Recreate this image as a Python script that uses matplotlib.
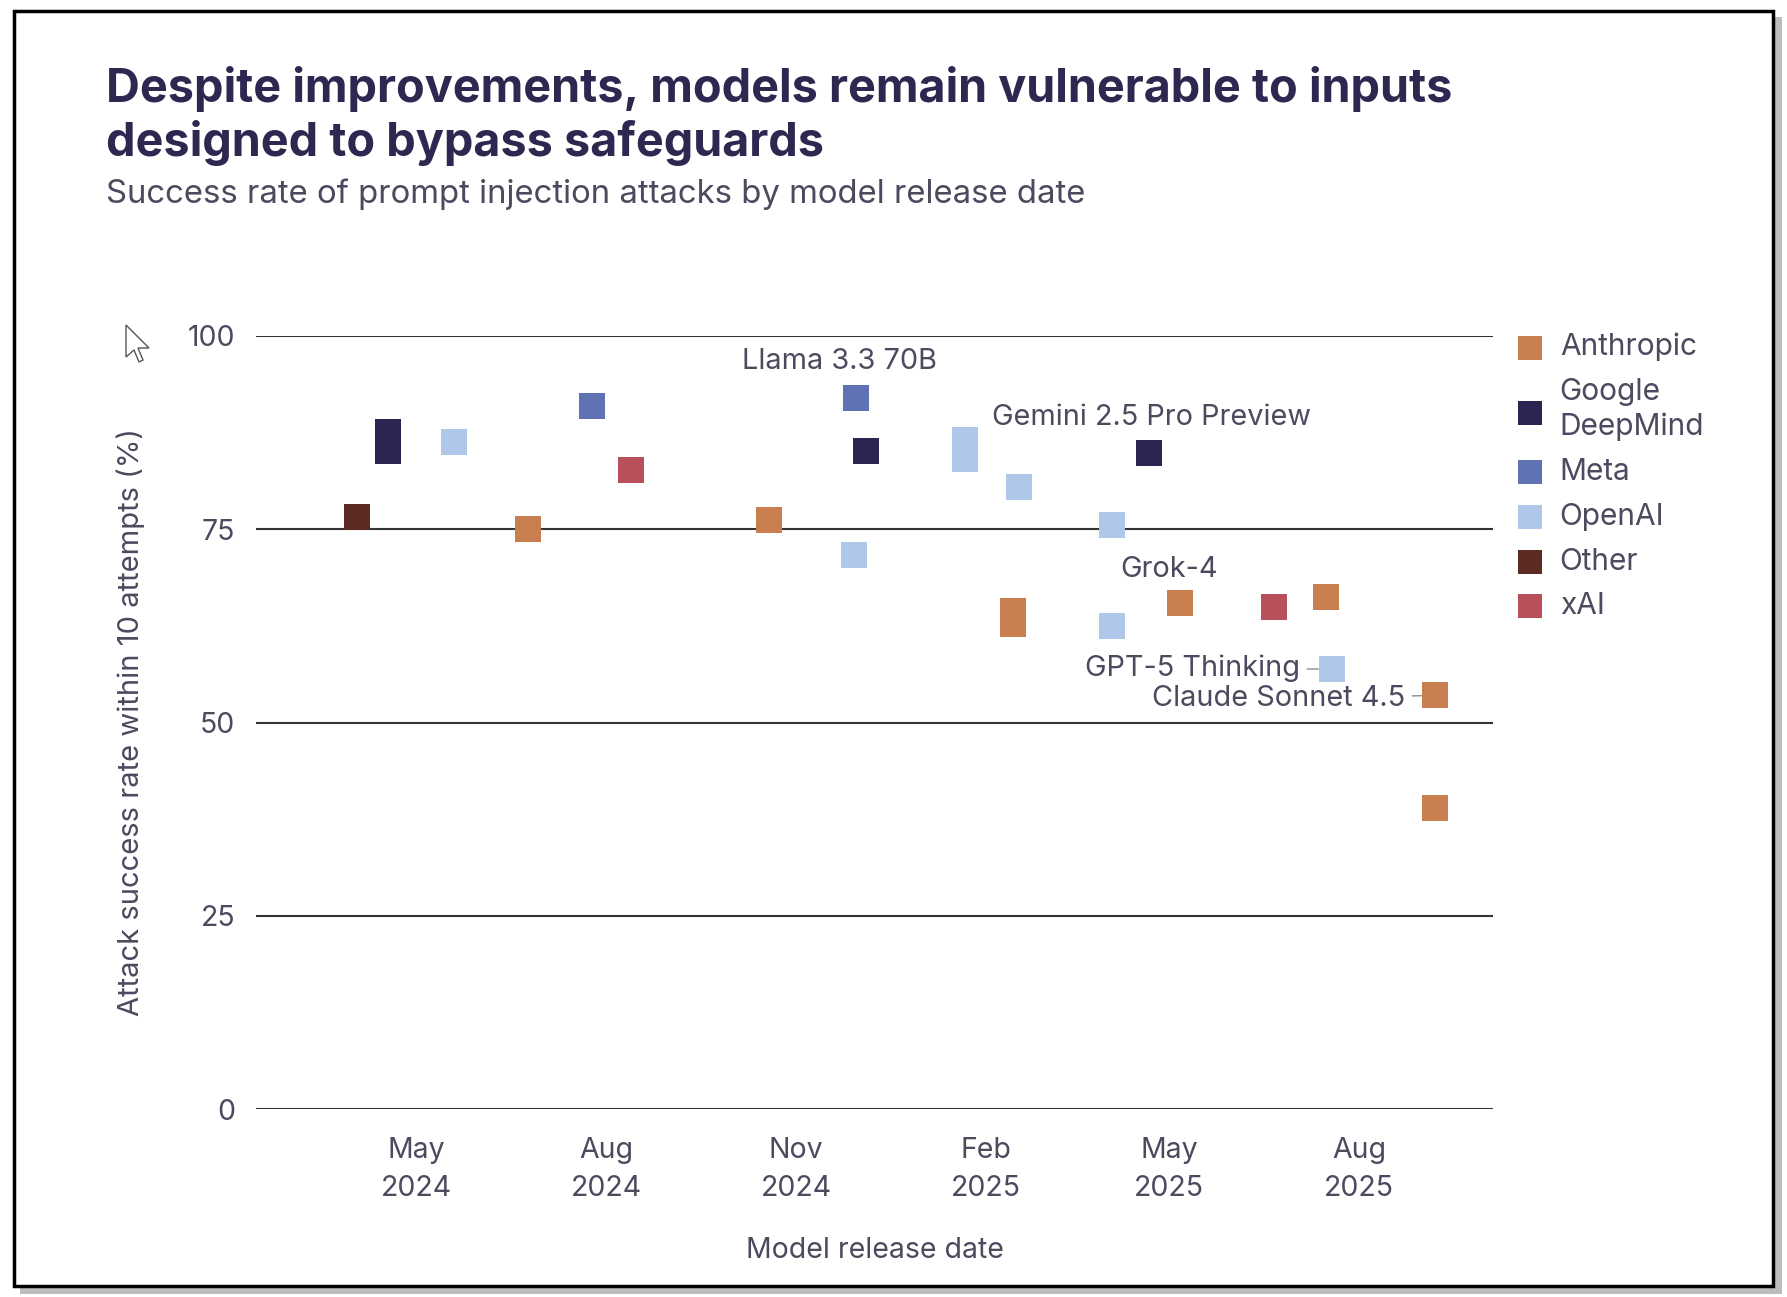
import matplotlib
matplotlib.use('Agg')
import matplotlib.pyplot as plt
import numpy as np
from matplotlib.patches import Rectangle, Polygon

plt.rcParams['font.family'] = ['Inter', 'DejaVu Sans']

# data (release date, attack success rate %)
companies = ["Anthropic", "Google DeepMind", "Meta", "OpenAI", "Other", "xAI"]
colors = {"Anthropic": "#c97e4f", "Google DeepMind": "#2b2552", "Meta": "#5f72b3",
          "OpenAI": "#afc8e9", "Other": "#5b2b24", "xAI": "#b84f5a"}

dates = ["2024-04-02", "2024-04-17", "2024-04-17", "2024-05-19", "2024-06-24",
         "2024-07-25", "2024-08-13", "2024-10-19", "2024-11-29", "2024-11-30",
         "2024-12-05", "2025-01-22", "2025-01-22", "2025-02-14", "2025-02-14",
         "2025-02-17", "2025-04-03", "2025-04-03", "2025-04-21", "2025-05-06",
         "2025-06-21", "2025-07-16", "2025-07-19", "2025-09-07", "2025-09-07"]
rates = [76.6, 87.6, 85.1, 86.3, 75.0,
         91.0, 82.7, 76.2, 71.7, 92.0,
         85.1, 86.6, 84.1, 64.4, 62.8,
         80.5, 75.5, 62.5, 84.9, 65.5,
         65.0, 66.2, 56.9, 53.5, 38.9]
owner = ["Other", "Google DeepMind", "Google DeepMind", "OpenAI", "Anthropic",
         "Meta", "xAI", "Anthropic", "OpenAI", "Meta",
         "Google DeepMind", "OpenAI", "OpenAI", "Anthropic", "Anthropic",
         "OpenAI", "OpenAI", "OpenAI", "Google DeepMind", "Anthropic",
         "xAI", "Anthropic", "OpenAI", "Anthropic", "Anthropic"]

# labelled points: index into the lists, offset in pixels, alignment
labels = [("Llama 3.3 70B", 9, (-16, 36), "center"),
          ("Gemini 2.5 Pro Preview", 18, (3, 35), "center"),
          ("Grok-4", 20, (-105, 37), "center"),
          ("GPT-5 Thinking", 22, (-32, 1), "right"),
          ("Claude Sonnet 4.5", 23, (-30, -3), "right")]

xticks = ["2024-05-01", "2024-08-01", "2024-11-01", "2025-02-01", "2025-05-01", "2025-08-01"]
xticklabels = ["May\n2024", "Aug\n2024", "Nov\n2024", "Feb\n2025", "May\n2025", "Aug\n2025"]
yticks = [0, 25, 50, 75, 100]

W, H = 1787, 1297
fig = plt.figure(figsize=(W / 100, H / 100), dpi=100)

def fx(px):
    return px / W

def fy(py):
    return 1 - py / H

# screenshot card with shadow and black frame
fig.patches.append(Rectangle((fx(20), fy(1294)), fx(1762), (1294 - 17) / H,
                             transform=fig.transFigure, facecolor="#bdbdbd", edgecolor="none", zorder=-3))
fig.patches.append(Rectangle((fx(14), fy(1286)), fx(1759), (1286 - 11) / H,
                             transform=fig.transFigure, facecolor="white", edgecolor="black",
                             linewidth=2.5, zorder=-2))
# mouse pointer left in the screenshot
cur = np.array([(0, 0), (0, 32), (8, 25), (13, 37), (17, 35), (12, 23), (23, 23)])
fig.patches.append(Polygon([(fx(126 + a), fy(325 + b)) for a, b in cur], closed=True,
                           transform=fig.transFigure, facecolor="white", edgecolor="#555555",
                           linewidth=1.0, zorder=5))

ax = fig.add_axes([fx(256), fy(1109), fx(1493 - 256), (1109 - 336) / H])
ax.set_facecolor("none")

d = np.array(dates, dtype="datetime64[D]").astype("O")
r = np.array(rates)
own = np.array(owner)
for c in companies:
    m = own == c
    ax.scatter(d[m], r[m], marker="s", s=330, color=colors[c], linewidths=0,
               label=c.replace(" ", "\n") if c == "Google DeepMind" else c, zorder=3)

txtcol = "#4b4a5e"
for text, i, off, ha in labels:
    arrow = None
    if ha == "right":
        arrow = dict(arrowstyle="-", color="#8a8a99", lw=1.0, shrinkA=3, shrinkB=10)
    ax.annotate(text, xy=(d[i], r[i]), xytext=off, textcoords="offset pixels",
                ha=ha, va="center", fontsize=20.8, color=txtcol, arrowprops=arrow)

ax.set_xlim(np.datetime64("2024-02-13").astype("O"), np.datetime64("2025-10-05").astype("O"))
ax.set_ylim(0, 100)
ax.set_yticks(yticks)
ax.set_xticks(np.array(xticks, dtype="datetime64[D]").astype("O"))
ax.set_xticklabels(xticklabels)
ax.grid(axis="y", color="#333333", linewidth=1.5)
ax.set_axisbelow(True)
for s in ax.spines.values():
    s.set_visible(False)
ax.tick_params(length=0, labelsize=20.5, labelcolor=txtcol)
ax.tick_params(axis="y", pad=15)
ax.tick_params(axis="x", pad=20)
for t in ax.get_xticklabels():
    t.set_linespacing(1.55)

ax.set_xlabel("Model release date", fontsize=20.5, color=txtcol, labelpad=25)
ax.set_ylabel("Attack success rate within 10 attempts (%)", fontsize=21, color=txtcol, labelpad=31)

leg = ax.legend(loc="upper left", bbox_to_anchor=(fx(1503), fy(321)), bbox_transform=fig.transFigure,
                frameon=False, fontsize=21.5, labelcolor=txtcol, handletextpad=0.5,
                labelspacing=0.56, borderaxespad=0, handlelength=1.0, markerscale=0.95)
for t in leg.get_texts():
    t.set_linespacing(1.3)

titcol = "#2c2850"
fig.text(fx(106), fy(89), "Despite improvements, models remain vulnerable to inputs",
         fontsize=33.7, fontweight="bold", color=titcol, va="center", ha="left")
fig.text(fx(106), fy(143), "designed to bypass safeguards",
         fontsize=33.7, fontweight="bold", color=titcol, va="center", ha="left")
fig.text(fx(106), fy(194), "Success rate of prompt injection attacks by model release date",
         fontsize=23.7, color=txtcol, va="center", ha="left")

fig.savefig("out.png", dpi=100)
